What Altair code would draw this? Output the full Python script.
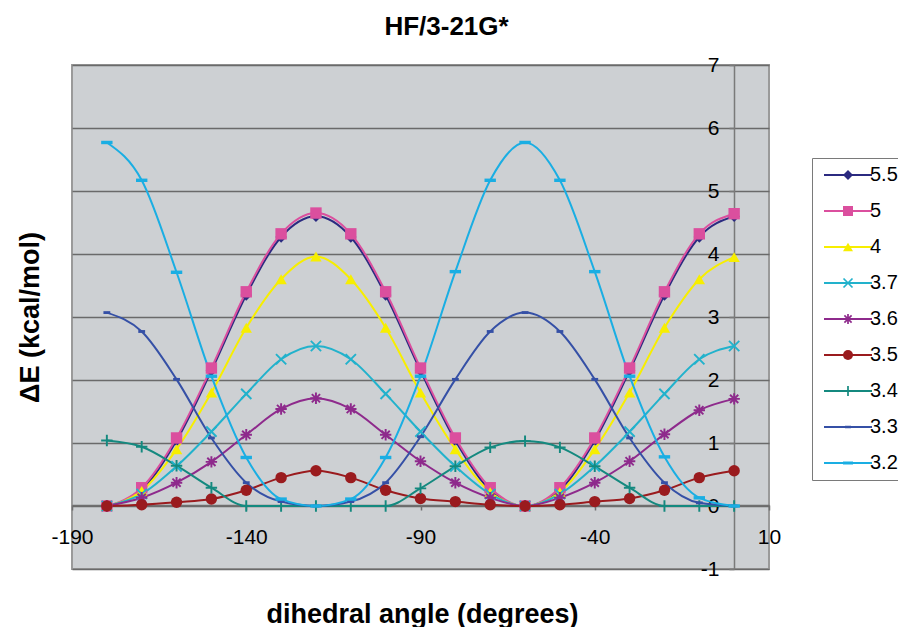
import altair as alt
import pandas as pd

# ---- data ----
angles = list(range(-180, 1, 10))
series_names = ["5.5", "5", "4", "3.7", "3.6", "3.5", "3.4", "3.3", "3.2"]

s55 = [0, 0.25, 1.04, 2.15, 3.35, 4.27, 4.60, 4.27, 3.35, 2.15, 1.04, 0.25, 0, 0.25, 1.04, 2.15, 3.35, 4.27, 4.60]
s5 = [0, 0.29, 1.08, 2.19, 3.40, 4.32, 4.65, 4.32, 3.40, 2.19, 1.08, 0.29, 0, 0.29, 1.08, 2.19, 3.40, 4.32, 4.64]
s4 = [0, 0.24, 0.90, 1.80, 2.83, 3.60, 3.96, 3.60, 2.83, 1.80, 0.90, 0.22, 0, 0.22, 0.90, 1.80, 2.83, 3.60, 3.95]
s37 = [0, 0.19, 0.63, 1.18, 1.78, 2.33, 2.54, 2.33, 1.78, 1.18, 0.63, 0.19, 0, 0.19, 0.63, 1.18, 1.78, 2.33, 2.54]
s36 = [0, 0.13, 0.37, 0.70, 1.13, 1.54, 1.71, 1.54, 1.13, 0.71, 0.37, 0.13, 0, 0.13, 0.37, 0.71, 1.14, 1.52, 1.70]
s35 = [0, 0.02, 0.06, 0.11, 0.25, 0.45, 0.56, 0.45, 0.25, 0.12, 0.07, 0.02, 0, 0.02, 0.07, 0.12, 0.25, 0.45, 0.56]
s34 = [1.04, 0.94, 0.64, 0.29, 0, 0, 0, 0, 0, 0.28, 0.63, 0.93, 1.03, 0.93, 0.63, 0.29, 0, 0, 0]
s33 = [3.07, 2.77, 2.01, 1.08, 0.37, 0.07, 0, 0.07, 0.37, 1.10, 2.01, 2.77, 3.07, 2.77, 2.01, 1.08, 0.37, 0.05, 0]
s32 = [5.77, 5.17, 3.71, 2.06, 0.77, 0.11, 0, 0.11, 0.77, 2.06, 3.72, 5.17, 5.77, 5.17, 3.72, 2.06, 0.78, 0.13, 0]

all_series = [s55, s5, s4, s37, s36, s35, s34, s33, s32]

colors = ["#2B2A80", "#DB4F9E", "#F7EE00", "#22B2CC", "#8E2A8C",
          "#9A1B1E", "#14897F", "#3550A6", "#1AAEE3"]


# ---- marker glyphs (filled outlines so one colour channel drives them) ----
def bar(x1, y1, x2, y2, w):
    dx, dy = x2 - x1, y2 - y1
    n = (dx * dx + dy * dy) ** 0.5
    px, py = -dy / n * w, dx / n * w
    pts = [(x1 + px, y1 + py), (x1 - px, y1 - py), (x2 - px, y2 - py), (x2 + px, y2 + py)]
    area = sum(pts[i][0] * pts[(i + 1) % 4][1] - pts[(i + 1) % 4][0] * pts[i][1] for i in range(4))
    if area < 0:
        pts = pts[::-1]
    return "M" + "L".join(f"{a:.3f},{b:.3f}" for a, b in pts) + "Z"


PLUS = bar(-1, 0, 1, 0, 0.17) + bar(0, -1, 0, 1, 0.17)
XMARK = bar(-0.9, -0.9, 0.9, 0.9, 0.17) + bar(-0.9, 0.9, 0.9, -0.9, 0.17)
STAR = (bar(-1, 0, 1, 0, 0.17) + bar(0, -1, 0, 1, 0.17)
        + bar(-0.72, -0.72, 0.72, 0.72, 0.17) + bar(-0.72, 0.72, 0.72, -0.72, 0.17))
DASH_S = "M-0.6,-0.25L0.6,-0.25L0.6,0.25L-0.6,0.25Z"
DASH_L = "M-1,-0.3L1,-0.3L1,0.3L-1,0.3Z"

shapes = ["diamond", "square", "triangle-up", XMARK, STAR, "circle", PLUS, DASH_S, DASH_L]

x_ticks = [-190, -140, -90, -40, 10]
y_ticks = [-1, 0, 1, 2, 3, 4, 5, 6, 7]

rows = []
for name, vals in zip(series_names, all_series):
    for a, v in zip(angles, vals):
        rows.append({"angle": a, "dE": v, "series": name})
df = pd.DataFrame(rows)

FONT = "Liberation Sans"
W, H = 697, 504
BG = "#CDD0D3"

x_enc = alt.X(
    "angle:Q",
    scale=alt.Scale(domain=[-190, 10], nice=False, zero=False),
    axis=alt.Axis(
        values=x_ticks, offset=-64, grid=False, labelExpr="datum.value",
        domainColor="#6f6f6f", domainWidth=1.5,
        tickColor="#6f6f6f", tickSize=5, tickWidth=1.5,
        labelFont=FONT, labelFontSize=21, labelColor="black",
        labelPadding=16, labelFlush=False, labelOverlap=False, labelBound=False,
        title="dihedral angle (degrees)", titleFont=FONT, titleFontSize=27,
        titleFontWeight="bold", titleColor="black",
        titleX=350, titleY=117, titleAlign="center", titleBaseline="alphabetic",
    ),
)
y_enc = alt.Y(
    "dE:Q",
    scale=alt.Scale(domain=[-1, 7], nice=False, zero=False),
    axis=alt.Axis(
        values=y_ticks, offset=-662, grid=True, labelExpr="datum.value",
        gridColor="#6a6a6a", gridWidth=1.5,
        domainColor="#7a7a7a", domainWidth=1.5,
        tickColor="#7a7a7a", tickSize=5, tickWidth=1.5,
        labelFont=FONT, labelFontSize=21, labelColor="black",
        labelPadding=10, labelOverlap=False, labelBound=False, labelFlush=False,
        title="ΔE (kcal/mol)", titleFont=FONT, titleFontSize=27,
        titleFontWeight="bold", titleColor="black",
        titleAngle=270, titleX=-704, titleY=252, titleAlign="center",
        titleBaseline="middle",
    ),
)

LEG_X, LEG_Y = 740, 93

line_legend = alt.Legend(
    orient="none", legendX=LEG_X, legendY=LEG_Y, title=None,
    symbolType="M-1,0L8.6,0", symbolSize=100, symbolStrokeWidth=2,
    labelFont=FONT, labelFontSize=20, labelColor="black", labelOffset=31,
    rowPadding=16, padding=7, strokeColor="#7a7a7a", fillColor="white",
)
point_legend = alt.Legend(
    orient="none", legendX=LEG_X + 19, legendY=LEG_Y, title=None,
    symbolSize=100, symbolStrokeWidth=0,
    labelFont=FONT, labelFontSize=20, labelColor="black", labelOffset=12,
    labelOpacity=0, rowPadding=16, padding=7,
)

lines = alt.Chart(df).mark_line(interpolate="monotone", strokeWidth=2).encode(
    x=x_enc, y=y_enc,
    color=alt.Color("series:N",
                    scale=alt.Scale(domain=series_names, range=colors), legend=line_legend),
)

points = alt.Chart(df).mark_point(size=130, filled=True, opacity=1).encode(
    x=x_enc, y=y_enc,
    color=alt.Color("series:N",
                    scale=alt.Scale(domain=series_names, range=colors), legend=point_legend),
    shape=alt.Shape("series:N",
                    scale=alt.Scale(domain=series_names, range=shapes), legend=point_legend),
)

chart = (
    alt.layer(lines, points)
    .resolve_scale(color="independent", shape="independent")
    .resolve_legend(color="independent", shape="independent")
    .properties(
        width=W, height=H,
        view=alt.ViewBackground(fill=BG, stroke="#9a9a9a", strokeWidth=2),
        autosize=alt.AutoSizeParams(type="none"),
        padding={"left": 64, "top": 57, "right": 129, "bottom": 58},
        title=alt.TitleParams(
            "HF/3-21G*", font=FONT, fontSize=26, fontWeight="bold", color="black",
            anchor="middle", frame="group", dx=26, offset=14,
        ),
    )
    .configure_view(fill=BG, stroke="#9a9a9a", strokeWidth=2)
    .configure(background="white")
)

chart.save("out.html", embed_options={"renderer": "svg", "actions": False})
